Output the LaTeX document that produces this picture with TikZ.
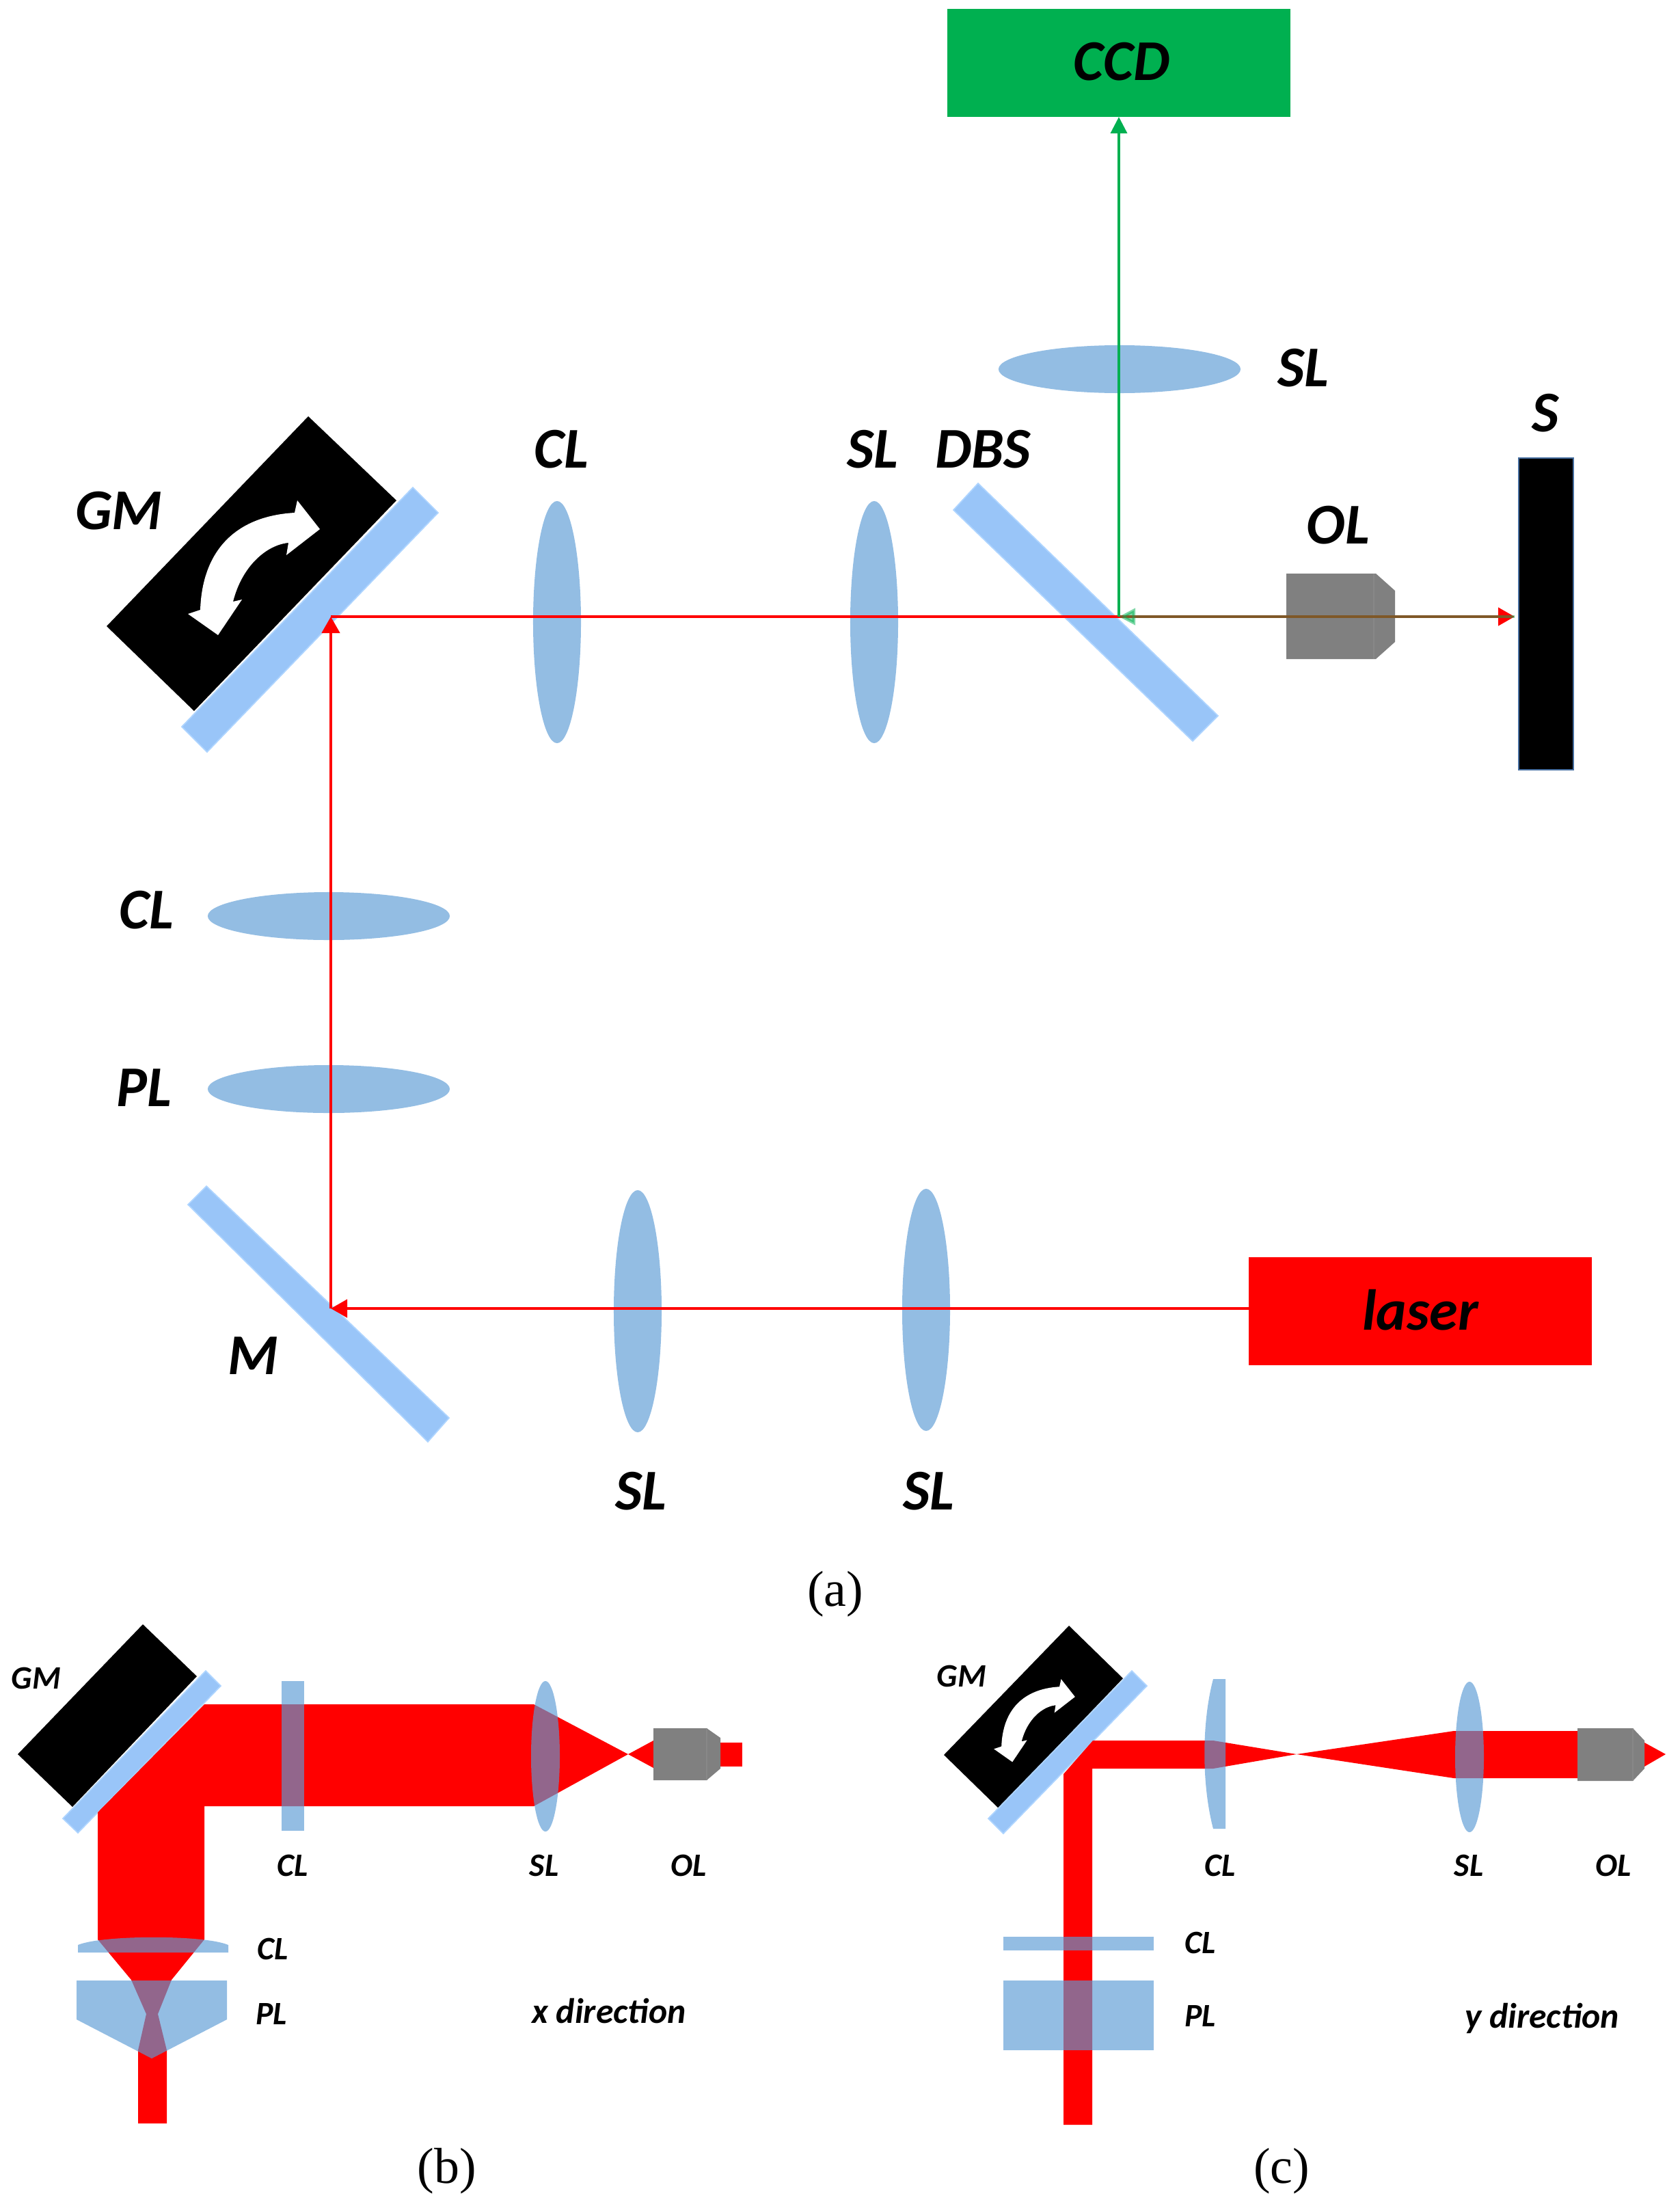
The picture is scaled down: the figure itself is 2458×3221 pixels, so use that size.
\documentclass[tikz,border=0pt]{standalone}
\usepackage{xcolor}
\usepackage{fontspec}
\setmainfont{Carlito}
\newfontfamily\captionfont{Liberation Serif}
\usepackage{tikz}
\usetikzlibrary{shapes,arrows,arrows.meta,positioning}
\definecolor{lensblue}{RGB}{91,155,213}
\definecolor{mirrorblue}{RGB}{153,197,248}
\definecolor{mirroredge}{RGB}{175,213,255}
\definecolor{rayred}{RGB}{255,0,0}
\definecolor{raygreen}{RGB}{0,176,80}
\definecolor{olgray}{RGB}{128,128,128}
\definecolor{oledge}{RGB}{136,136,136}
\definecolor{sampleedge}{RGB}{70,110,160}

\newcommand{\gmarrowpath}{(435,732) -- (468,774) -- (419,812) -- (422,794) .. controls (390,797) and (354,828) .. (341,880) -- (354,877) -- (319,929) -- (275,898) -- (293,892) .. controls (296,805) and (345,755) .. (431,750) -- cycle}

\begin{document}
\begin{tikzpicture}[x=0.01cm,y=-0.01cm,
    biglabel/.style={inner sep=0pt, font=\fontsize{24}{24}\selectfont\bfseries\itshape},
    smalllabel/.style={inner sep=0pt, font=\fontsize{13.6}{14}\selectfont\bfseries\itshape},
    dirlabel/.style={inner sep=0pt, font=\fontsize{14.7}{15}\selectfont\bfseries\itshape},
    caption/.style={inner sep=0pt, font=\fontsize{21}{21}\selectfont\captionfont},
    lens/.style={ellipse, fill=lensblue, fill opacity=0.66, text opacity=1, inner sep=0pt},
    lensup/.style={lens, minimum width=0.7cm, minimum height=3.54cm},
    lensflat/.style={lens, minimum width=3.54cm, minimum height=0.7cm},
    lenssmall/.style={lens, minimum width=0.42cm, minimum height=2.2cm},
    plate/.style={rectangle, fill=lensblue, fill opacity=0.66, inner sep=0pt},
    lensfill/.style={fill=lensblue, fill opacity=0.66},
    mirror/.style={fill=mirrorblue, draw=mirroredge, line width=0.5pt},
    outbox/.style={rectangle, inner sep=0pt, outer sep=0pt, minimum width=5.02cm, minimum height=1.58cm},
    redarrow/.style={rayred, line width=0.045cm, -{Triangle[length=0.24cm,width=0.26cm]}},
    greenarrow/.style={raygreen, line width=0.035cm, -{Triangle[length=0.24cm,width=0.24cm]}},
    olbody/.style={fill=olgray},
    olline/.style={draw=oledge, line width=0.4pt},
    beam/.style={fill=rayred}
]
\useasboundingbox (0,0) rectangle (2458,3221);

\node[outbox, fill=raygreen] (ccd) at (1637,92) {};
\node[biglabel] (ccdtext) at (1641,90) {CCD};
\node[outbox, fill=rayred] (laser) at (2078,1918) {};
\node[biglabel] (lasertext) at (2078,1916) {laser};
\node[rectangle, fill=black, draw=sampleedge, line width=0.6pt, minimum width=0.8cm, minimum height=4.56cm, inner sep=0pt] (sample) at (2262,898) {};

\fill[black] (451,609) -- (580,732) -- (284,1040) -- (156,916) -- cycle;
\fill[white] \gmarrowpath;
\filldraw[mirror] (604,713) -- (641,750) -- (303,1100) -- (266,1063) -- cycle;
\filldraw[mirror] (1431,707) -- (1395,746) -- (1745,1084) -- (1782,1047) -- cycle;
\filldraw[mirror] (302,1735) -- (275,1762) -- (626,2109) -- (657,2074) -- cycle;

\node[lensup] (clright) at (815,910) {};
\node[lensup] (slright) at (1279,910) {};
\node[lensup] (slbottoma) at (933,1918) {};
\node[lensup] (slbottomb) at (1355,1916) {};
\node[lensflat] (sltop) at (1638,540) {};
\node[lensflat] (clleft) at (481,1340) {};
\node[lensflat] (plleft) at (481,1593) {};

\fill[olbody] (1882,839) -- (2013,839) -- (2041,864) -- (2041,939) -- (2013,964) -- (1882,964) -- cycle;
\draw[olline] (2010,839) -- (2010,964);

\coordinate (hitm) at (484,1914);
\coordinate (hitgm) at (484,902);
\coordinate (hitdbs) at (1637,902);
\coordinate (hits) at (2216,902);

\draw[redarrow] (laser.west |- hitm) -- (hitm);
\draw[redarrow] (hitm) -- (hitgm);
\draw[redarrow] (hitgm) -- (hits);
\draw[greenarrow] (hitdbs) -- (ccd.south);
\draw[greenarrow, line width=0.045cm, opacity=0.5] (hits) -- (hitdbs);

\node[biglabel] (sltoptext) at (1907,538) {SL};
\node[biglabel] (stext) at (2261,604) {S};
\node[biglabel] (clrighttext) at (821,657) {CL};
\node[biglabel] (slrighttext) at (1277,657) {SL};
\node[biglabel] (dbstext) at (1438,657) {DBS};
\node[biglabel] (gmtext) at (174,747) {GM};
\node[biglabel] (oltext) at (1958,768) {OL};
\node[biglabel] (cllefttext) at (214,1331) {CL};
\node[biglabel] (pllefttext) at (211,1591) {PL};
\node[biglabel] (mtext) at (370,1983) {M};
\node[biglabel] (slbottomatext) at (938,2181) {SL};
\node[biglabel] (slbottombtext) at (1359,2181) {SL};
\node[caption] (capa) at (1222,2332) {(a)};

\fill[black] (209,2376) -- (288,2452) -- (106,2643) -- (26,2566) -- cycle;
\filldraw[mirror] (301,2444) -- (323,2466) -- (114,2681) -- (92,2660) -- cycle;
\fill[beam] (299,2493) -- (781,2493) -- (919,2566) -- (781,2642) -- (299,2642) -- (299,2837) -- (251,2896) -- (231,2946) -- (244,2999) -- (244,3106) -- (202,3106) -- (202,2999) -- (214,2946) -- (192,2896) -- (143,2837) -- (143,2651) -- cycle;
\fill[beam] (919,2566) -- (956,2546) -- (956,2586) -- cycle;
\fill[beam] (1054,2549) -- (1086,2549) -- (1086,2584) -- (1054,2584) -- cycle;
\fill[olbody] (956,2528) -- (1034,2528) -- (1054,2542) -- (1054,2587) -- (1034,2604) -- (956,2604) -- cycle;
\draw[olline] (1034,2528) -- (1034,2604);
\node[plate, minimum width=0.33cm, minimum height=2.19cm] (clvertb) at (428.5,2568.5) {};
\node[lenssmall] (slb) at (798,2569) {};
\fill[lensfill] (114,2856) -- (334,2856) -- (334,2845) .. controls (300,2830) and (150,2830) .. (114,2845) -- cycle;
\fill[lensfill] (112,2897) -- (332,2897) -- (332,2954) -- (222,3011) -- (112,2954) -- cycle;
\node[smalllabel] (gmbtext) at (53,2455) {GM};
\node[smalllabel] (clbtext) at (428,2729) {CL};
\node[smalllabel] (slbtext) at (796,2729) {SL};
\node[smalllabel] (olbtext) at (1008,2729) {OL};
\node[smalllabel] (clhbtext) at (399,2851) {CL};
\node[smalllabel] (plbtext) at (397,2946) {PL};
\node[dirlabel] (xdirtext) at (891,2942) {x direction};
\node[caption] (capb) at (654,3176) {(b)};

\fill[black] (1564,2378) -- (1643,2455) -- (1461,2645) -- (1381,2567) -- cycle;
\begin{scope}[shift={(1285,2006)}, scale=0.615]
\fill[white] \gmarrowpath;
\end{scope}
\filldraw[mirror] (1656,2444) -- (1678,2466) -- (1468,2682) -- (1446,2660) -- cycle;
\fill[beam] (1599,2546) -- (1775,2546) -- (1897,2566) -- (2127,2532) -- (2308,2532) -- (2308,2601) -- (2127,2601) -- (1897,2566) -- (1775,2587) -- (1598,2587) -- (1598,3108) -- (1556,3108) -- (1556,2595) -- cycle;
\fill[beam] (2406,2549) -- (2437,2566) -- (2406,2584) -- cycle;
\fill[olbody] (2308,2528) -- (2389,2528) -- (2406,2546) -- (2406,2587) -- (2389,2605) -- (2308,2605) -- cycle;
\draw[olline] (2389,2528) -- (2389,2605);
\fill[lensfill] (1793,2456) -- (1793,2675) -- (1775,2675) .. controls (1758,2610) and (1758,2520) .. (1775,2456) -- cycle;
\node[lenssmall] (slc) at (2150,2570) {};
\node[plate, minimum width=2.2cm, minimum height=0.2cm] (clhc) at (1578,2843) {};
\node[plate, minimum width=2.2cm, minimum height=1.02cm] (plc) at (1578,2948) {};
\node[smalllabel] (gmctext) at (1407,2452) {GM};
\node[smalllabel] (clctext) at (1785,2729) {CL};
\node[smalllabel] (slctext) at (2149,2729) {SL};
\node[smalllabel] (olctext) at (2361,2729) {OL};
\node[smalllabel] (clhctext) at (1756,2842) {CL};
\node[smalllabel] (plctext) at (1756,2949) {PL};
\node[dirlabel] (ydirtext) at (2256,2952) {y direction};
\node[caption] (capc) at (1875,3176) {(c)};

\end{tikzpicture}
\end{document}
